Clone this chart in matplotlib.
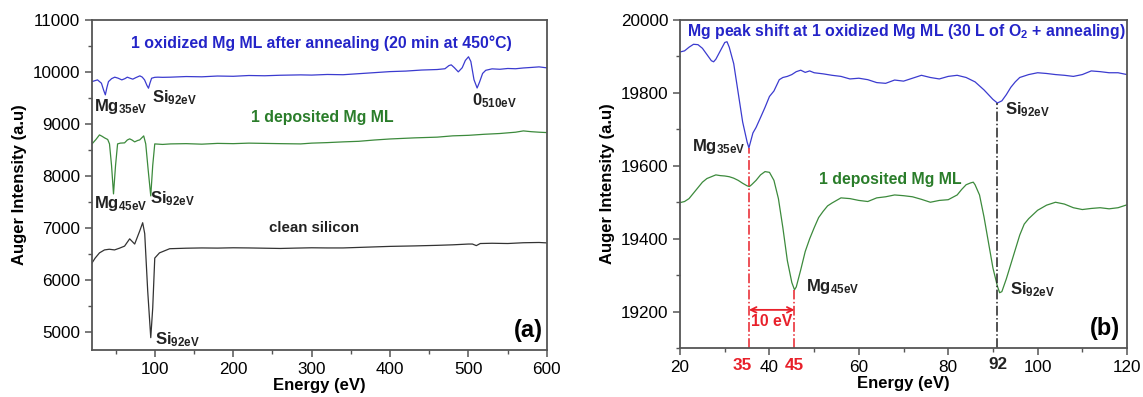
import numpy as np
import matplotlib
matplotlib.use("Agg")
import matplotlib.pyplot as plt
from matplotlib.ticker import MultipleLocator
import matplotlib.transforms as mtransforms

plt.rcParams['font.family'] = ['Liberation Sans', 'DejaVu Sans']
plt.rcParams['mathtext.fontset'] = 'custom'
plt.rcParams['mathtext.rm'] = 'Liberation Sans:bold'
plt.rcParams['mathtext.bf'] = 'Liberation Sans:bold'
plt.rcParams['mathtext.default'] = 'bf'

# --- panel (a): wide energy scan ---
e_ox_a = [20, 27, 32, 35, 37, 39, 41, 45, 49, 53, 58, 62, 65, 69, 72, 76, 81, 84, 87, 90, 92, 94, 96, 100, 104,
          110, 120, 140, 160, 180, 200, 220, 240, 260, 286, 300, 320, 340, 360, 380, 400, 420, 440, 460, 470,
          475, 478, 482, 487, 492, 496, 500, 503, 507, 511, 514, 518, 522, 530, 540, 550, 560, 570, 580, 590, 600]
i_ox_a = [9813, 9846, 9782, 9640, 9558, 9700, 9813, 9870, 9898, 9880, 9846, 9870, 9898, 9875, 9860, 9890, 9923, 9900,
          9846, 9740, 9686, 9790, 9878, 9895, 9898,
          9895, 9898, 9910, 9905, 9920, 9915, 9930, 9925, 9935, 9942, 9938, 9950, 9945, 9965, 9985, 10005, 10015,
          10035, 10045, 10060, 10120, 10135, 10080, 10000, 10080, 10220, 10290, 10200, 9850, 9690, 9800, 9970,
          10030, 10058, 10050, 10065, 10060, 10075, 10085, 10096, 10077]

e_dep_a = [20, 25, 29.5, 33, 36, 40, 42.3, 44.9, 47.4, 50, 52.6, 56, 61.5, 65, 68, 71, 74.4, 78, 80.8, 84, 85.9,
           88.5, 91.7, 94.9, 97.4, 100, 110, 120, 140, 160, 180, 200, 220, 240, 260, 286, 300, 320, 340, 360,
           380, 400, 431, 460, 480, 500, 520, 540, 560, 570, 580, 590, 600]
i_dep_a = [8615, 8700, 8788, 8760, 8731, 8700, 8615, 8200, 7654, 8200, 8615, 8630, 8635, 8690, 8712, 8690, 8654,
           8680, 8692, 8740, 8769, 8615, 8100, 7615, 8200, 8615, 8605, 8615, 8620, 8610, 8625, 8620, 8630, 8625,
           8620, 8615, 8630, 8640, 8654, 8665, 8690, 8710, 8731, 8745, 8770, 8780, 8800, 8815, 8840, 8865, 8850,
           8840, 8833]

e_si_a = [19.2, 24, 29.5, 35.9, 42, 48.7, 55, 61.5, 68, 74.4, 80.8, 84.6, 87.2, 91, 94.9, 97.4, 100, 106, 119,
          140, 160, 180, 200, 220, 240, 260, 280, 300, 320, 340, 360, 380, 400, 431, 460, 480, 500, 505, 510, 515,
          530, 550, 570, 590, 600]
i_si_a = [6308, 6420, 6520, 6577, 6590, 6577, 6610, 6650, 6790, 6690, 6940, 7100, 6890, 5790, 4890, 5460, 6420,
          6520, 6600, 6610, 6615, 6612, 6618, 6615, 6610, 6605, 6612, 6618, 6615, 6615, 6625, 6635, 6645, 6654,
          6665, 6675, 6690, 6690, 6660, 6700, 6705, 6700, 6715, 6720, 6712]

# --- panel (b): zoom on the Mg / Si region ---
e_ox_b = [20, 21, 22, 23, 24, 25, 26, 27, 27.5, 28, 29, 30, 30.5, 31, 32, 33, 34, 35, 35.4, 36.3, 37, 38.1, 39, 40,
          41, 42.2, 43, 44, 45, 46, 47, 48, 49, 50, 52, 54, 56, 58, 60, 62, 64, 66, 68, 70, 72, 74, 76, 78, 80,
          82, 84, 86, 88, 89, 90, 91, 92, 93, 94, 95, 96, 98, 100, 102, 104, 106, 108, 110, 112, 114, 116, 118, 120]
i_ox_b = [19912, 19915, 19925, 19933, 19932, 19922, 19905, 19888, 19885, 19892, 19915, 19938, 19940, 19925, 19880,
          19800, 19720, 19665, 19649, 19690, 19705, 19735, 19760, 19790, 19805, 19836, 19842, 19845, 19850, 19858,
          19862, 19856, 19860, 19855, 19852, 19848, 19845, 19838, 19840, 19836, 19828, 19826, 19835, 19832, 19840,
          19848, 19842, 19838, 19845, 19848, 19842, 19830, 19808, 19795, 19782, 19772, 19778, 19795, 19815, 19830,
          19842, 19850, 19855, 19853, 19850, 19848, 19845, 19850, 19860, 19858, 19855, 19855, 19850]

e_dep_b = [20, 21, 22, 23, 24, 25, 26, 27, 28, 29, 30, 31, 32, 33, 34, 35, 35.5, 36, 37, 38, 39, 40, 41, 42, 43, 44,
           45, 45.6, 46, 47, 48, 49, 50, 51, 52, 53, 54, 55, 56, 58, 60, 62, 64, 66, 68, 70, 72, 74, 76, 78, 80,
           82, 83, 84, 85, 85.6, 86, 87, 88, 89, 90, 91, 91.5, 92, 93, 94, 95, 96, 97, 98, 100, 102, 104, 106, 108,
           110, 112, 114, 116, 118, 120]
i_dep_b = [19499, 19502, 19510, 19525, 19540, 19555, 19565, 19570, 19575, 19573, 19572, 19570, 19566, 19560, 19552,
           19545, 19543, 19548, 19560, 19575, 19584, 19582, 19560, 19510, 19430, 19340, 19280, 19260, 19268, 19315,
           19365, 19400, 19430, 19458, 19475, 19490, 19498, 19505, 19512, 19510, 19505, 19502, 19512, 19515, 19520,
           19518, 19515, 19508, 19500, 19505, 19507, 19520, 19535, 19548, 19553, 19555, 19548, 19520, 19460, 19390,
           19320, 19270, 19252, 19255, 19290, 19330, 19370, 19410, 19440, 19455, 19478, 19492, 19500, 19495, 19485,
           19480, 19483, 19485, 19482, 19485, 19493]

mg_ox_peak = (35.4, 19649)
mg_dep_peak = (45.6, 19260)
si_peak = (91, 19772)

BLUE = '#3b3bcf'
BLUE_TXT = '#2424c8'
GREEN = '#3c8a3c'
GREEN_TXT = '#2a7d2a'
DARK = '#333333'
RED = '#e8202a'

fig = plt.figure(figsize=(11.43, 3.97), dpi=100)
ax1 = fig.add_axes([0.0805, 0.118, 0.398, 0.832])
ax2 = fig.add_axes([0.595, 0.123, 0.391, 0.827])

for ax in (ax1, ax2):
    for sp in ax.spines.values():
        sp.set_color('#555555')
        sp.set_linewidth(1.3)
    ax.tick_params(which='major', direction='out', length=5, width=1.1, labelsize=12.3, color='#555555')
    ax.tick_params(which='minor', direction='out', length=3, width=1.0, color='#555555')
    ax.set_xlabel('Energy (eV)', fontsize=12, fontweight='bold', labelpad=1)
    ax.set_ylabel('Auger Intensity (a.u)', fontsize=12, fontweight='bold', labelpad=4)

# (a)
ax1.plot(e_ox_a, i_ox_a, color=BLUE, lw=0.9)
ax1.plot(e_dep_a, i_dep_a, color=GREEN, lw=0.9)
ax1.plot(e_si_a, i_si_a, color=DARK, lw=0.9)
ax1.set_xlim(20, 600)
ax1.set_ylim(4650, 11000)
ax1.xaxis.set_major_locator(MultipleLocator(100))
ax1.xaxis.set_minor_locator(MultipleLocator(50))
ax1.yaxis.set_major_locator(MultipleLocator(1000))
ax1.yaxis.set_minor_locator(MultipleLocator(500))

fs = 11.4   # titles
fl = 12     # peak labels
ax1.text(313, 10546, '1 oxidized Mg ML after annealing (20 min at 450°C)', color=BLUE_TXT, fontsize=fs,
         fontweight='bold', ha='center', va='center')
ax1.text(23, 9340, r'Mg$_{35eV}$', fontsize=fl, fontweight='bold', ha='left', va='center', color='#222222')
ax1.text(97, 9513, r'Si$_{92eV}$', fontsize=fl, fontweight='bold', ha='left', va='center', color='#222222')
ax1.text(504, 9454, r'0$_{510eV}$', fontsize=fl, fontweight='bold', ha='left', va='center', color='#222222')
ax1.text(313, 9122, '1 deposited Mg ML', color=GREEN_TXT, fontsize=fs, fontweight='bold', ha='center', va='center')
ax1.text(23, 7468, r'Mg$_{45eV}$', fontsize=fl, fontweight='bold', ha='left', va='center', color='#222222')
ax1.text(94, 7565, r'Si$_{92eV}$', fontsize=fl, fontweight='bold', ha='left', va='center', color='#222222')
ax1.text(303, 7000, 'clean silicon', fontsize=10.8, fontweight='bold', ha='center', va='center', color='#222222')
ax1.text(100, 4850, r'Si$_{92eV}$', fontsize=fl, fontweight='bold', ha='left', va='center', color='#222222')
ax1.text(0.99, 0.025, '(a)', transform=ax1.transAxes, fontsize=17, fontweight='bold', ha='right', va='bottom')

# (b)
ax2.plot(e_ox_b, i_ox_b, color=BLUE, lw=0.9)
ax2.plot(e_dep_b, i_dep_b, color=GREEN, lw=0.9)
ax2.set_xlim(20, 120)
ax2.set_ylim(19100, 20000)
ax2.xaxis.set_major_locator(MultipleLocator(20))
ax2.xaxis.set_minor_locator(MultipleLocator(10))
ax2.yaxis.set_major_locator(MultipleLocator(200))
ax2.yaxis.set_minor_locator(MultipleLocator(100))

ax2.vlines(mg_ox_peak[0], 19100, mg_ox_peak[1], colors=RED, linestyles='dashdot', lw=1.1)
ax2.vlines(mg_dep_peak[0], 19100, mg_dep_peak[1], colors=RED, linestyles='dashdot', lw=1.1)
ax2.vlines(si_peak[0], 19100, si_peak[1], colors='#222222', linestyles='dashdot', lw=1.1)
ax2.annotate('', xy=(mg_dep_peak[0], 19205), xytext=(mg_ox_peak[0], 19205),
             arrowprops=dict(arrowstyle='<->', color=RED, lw=1.3, shrinkA=0, shrinkB=0))
ax2.text(40.4, 19172, '10 eV', color=RED, fontsize=fs, fontweight='bold', ha='center', va='center')

trans = mtransforms.blended_transform_factory(ax2.transData, ax2.transAxes)
ax2.text(33.8, -0.03, '35', transform=trans, color=RED, fontsize=12.3, fontweight='bold',
         ha='center', va='top')
ax2.text(mg_dep_peak[0], -0.03, '45', transform=trans, color=RED, fontsize=12.3, fontweight='bold',
         ha='center', va='top')
ax2.text(si_peak[0], -0.028, '92', transform=trans, color='#222222', fontsize=12.3, fontweight='bold',
         ha='center', va='top')

ax2.text(21.5, 19967, r'Mg peak shift at 1 oxidized Mg ML (30 L of O$_2$ + annealing)', color=BLUE_TXT,
         fontsize=fs, fontweight='bold', ha='left', va='center')
ax2.text(34.5, 19652, r'Mg$_{35eV}$', fontsize=fl, fontweight='bold', ha='right', va='center', color='#222222')
ax2.text(51.1, 19562, '1 deposited Mg ML', color=GREEN_TXT, fontsize=fs, fontweight='bold', ha='left', va='center')
ax2.text(48.2, 19268, r'Mg$_{45eV}$', fontsize=fl, fontweight='bold', ha='left', va='center', color='#222222')
ax2.text(92.7, 19753, r'Si$_{92eV}$', fontsize=fl, fontweight='bold', ha='left', va='center', color='#222222')
ax2.text(93.8, 19260, r'Si$_{92eV}$', fontsize=fl, fontweight='bold', ha='left', va='center', color='#222222')
ax2.text(0.985, 0.025, '(b)', transform=ax2.transAxes, fontsize=17, fontweight='bold', ha='right', va='bottom')

fig.savefig('out.png', dpi=100)
